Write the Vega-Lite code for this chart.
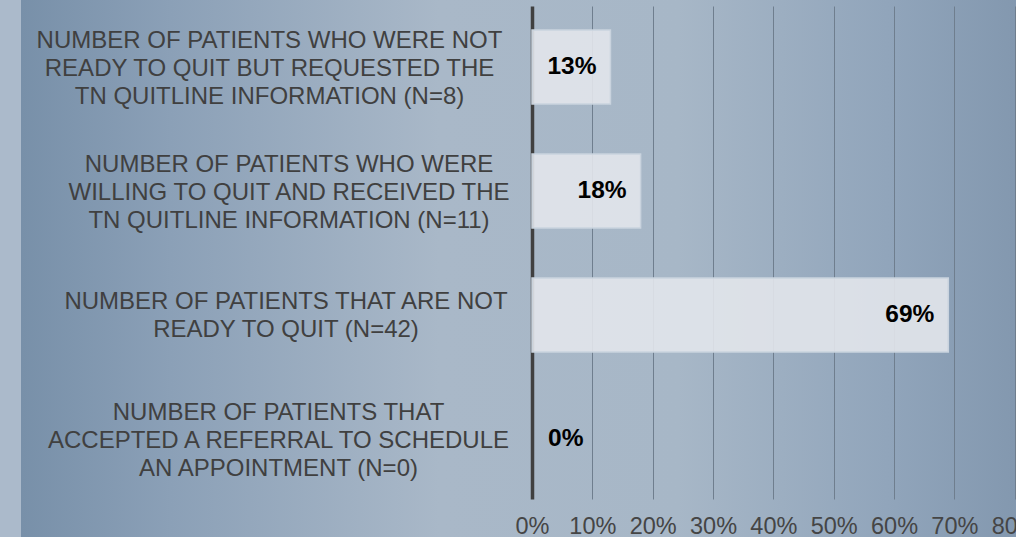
{
  "$schema": "https://vega.github.io/schema/vega-lite/v6.json",
  "width": 995,
  "height": 537,
  "autosize": {"type": "none"},
  "padding": {"left": 21, "top": 0, "right": 0, "bottom": 0},
  "background": "#abbacb",
  "config": {
    "font": "Liberation Sans",
    "view": {
      "stroke": null,
      "fill": {
        "gradient": "linear",
        "x1": 0, "y1": 0, "x2": 1, "y2": 0,
        "stops": [
          {"offset": 0, "color": "#7890a9"},
          {"offset": 0.15, "color": "#8ba0b7"},
          {"offset": 0.42, "color": "#a9b8c8"},
          {"offset": 0.66, "color": "#a7b7c7"},
          {"offset": 0.87, "color": "#91a5bb"},
          {"offset": 1, "color": "#8398af"}
        ]
      }
    }
  },
  "data": {
    "values": [
      {"category": "NUMBER OF PATIENTS WHO WERE NOT|READY TO QUIT BUT REQUESTED THE|TN QUITLINE INFORMATION (N=8)", "pct": 0.13},
      {"category": "NUMBER OF PATIENTS WHO WERE|WILLING TO QUIT AND RECEIVED THE|TN QUITLINE INFORMATION (N=11)", "pct": 0.18},
      {"category": "NUMBER OF PATIENTS THAT ARE NOT|READY TO QUIT (N=42)", "pct": 0.69},
      {"category": "NUMBER OF PATIENTS THAT|ACCEPTED A REFERRAL TO SCHEDULE|AN APPOINTMENT (N=0)", "pct": 0}
    ]
  },
  "encoding": {
    "y": {
      "field": "category",
      "type": "nominal",
      "sort": null,
      "scale": {"paddingInner": 0.403, "paddingOuter": 0.3668, "align": 0.33},
      "axis": {
        "title": null,
        "orient": "left",
        "offset": -511,
        "domain": false,
        "ticks": false,
        "grid": false,
        "labelExpr": "split(datum.label, '|')",
        "labelAlign": "center",
        "labelBaseline": "middle",
        "labelPadding": {"expr": "indexof(datum.value, 'N=8)') >= 0 ? 263 : indexof(datum.value, 'N=11') >= 0 ? 243.5 : indexof(datum.value, 'N=42') >= 0 ? 246.5 : 254"},
        "labelOffset": {"condition": {"test": "indexof(datum.value, 'N=42') >= 0", "value": -13}, "value": -26.5},
        "labelFontSize": 24,
        "labelLineHeight": 28,
        "labelColor": "#404040",
        "labelFont": "Liberation Sans",
        "labelLimit": 0
      }
    },
    "x": {
      "field": "pct",
      "type": "quantitative",
      "scale": {"domain": [-0.847, 0.8022], "nice": false, "zero": false},
      "axis": {
        "title": null,
        "orient": "bottom",
        "offset": -38,
        "values": [0, 0.1, 0.2, 0.3, 0.4, 0.5, 0.6, 0.7, 0.8],
        "format": ".0%",
        "domain": false,
        "grid": false,
        "ticks": true,
        "tickSize": -493,
        "tickColor": {"condition": {"test": "datum.value === 0", "value": "#404040"}, "value": "#6f7e8e"},
        "tickWidth": {"condition": {"test": "datum.value === 0", "value": 3.5}, "value": 1},
        "labelPadding": 527,
        "labelBaseline": "alphabetic",
        "labelFlush": false,
        "labelOverlap": false,
        "labelFontSize": 23.5,
        "labelColor": "#454545",
        "labelFont": "Liberation Sans"
      }
    }
  },
  "layer": [
    {
      "transform": [{"filter": "datum.pct > 0"}],
      "mark": {"type": "bar", "fill": "#e2e6eb", "fillOpacity": 0.9, "stroke": "#c9d3de", "strokeWidth": 1.5, "x2Offset": 2}
    },
    {
      "transform": [{"filter": "datum.pct > 0"}],
      "mark": {"type": "text", "align": "right", "dx": -14, "fontWeight": "bold", "fontSize": 24.5, "color": "#000000"},
      "encoding": {"text": {"field": "pct", "type": "quantitative", "format": ".0%"}}
    },
    {
      "transform": [{"filter": "datum.pct == 0"}],
      "mark": {"type": "text", "align": "left", "dx": 16, "fontWeight": "bold", "fontSize": 24.5, "color": "#000000"},
      "encoding": {"text": {"field": "pct", "type": "quantitative", "format": ".0%"}}
    }
  ]
}
